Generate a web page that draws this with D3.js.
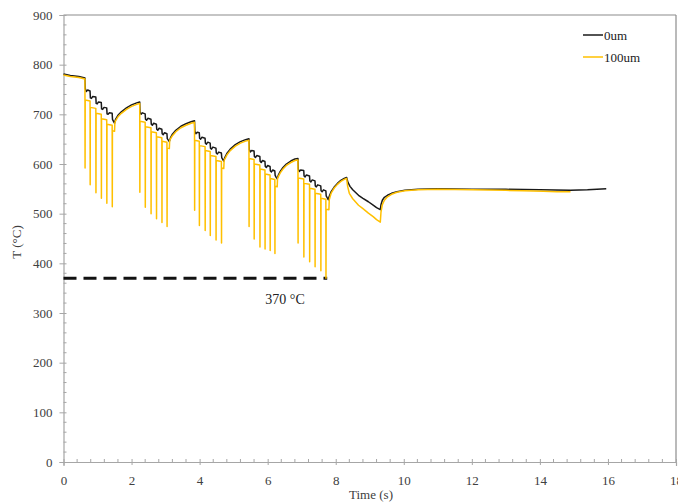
<!DOCTYPE html>
<html>
<head>
<meta charset="utf-8">
<script src="https://cdn.jsdelivr.net/npm/d3@7"></script>
<style>
html,body{margin:0;padding:0;background:#fff;}
svg{display:block;font-family:"Liberation Serif","Times New Roman",serif;}
</style>
</head>
<body>
<svg id="chart" width="678" height="502"></svg>
<script>
// ---- data ----
const seriesNames = ["0um", "100um"];
const xTicks = [0, 2, 4, 6, 8, 10, 12, 14, 16, 18];
const yTicks = [0, 100, 200, 300, 400, 500, 600, 700, 800, 900];
const thresholdValue = 370;
const thresholdEnd = 7.75;
const thresholdLabel = "370 °C";

const series0um = [
  [0,781],[0.2,778],[0.45,776],[0.63,773],
  [0.64,752],[0.67,746],[0.71,749],[0.78,747],
  [0.79,733],[0.82,732],[0.86,736],[0.95,735],
  [0.96,722],[0.99,721],[1.03,725],[1.11,724],
  [1.12,711],[1.15,710],[1.19,714],[1.27,713],
  [1.28,701],[1.31,700],[1.35,703],[1.43,702],
  [1.44,690],[1.47,686],[1.50,682],
  [1.53,690],[1.6,698],[1.7,705],[1.85,713],[2.0,719],[2.15,723],[2.24,725],
  [2.25,705],[2.28,700],[2.32,703],[2.40,701],
  [2.41,690],[2.44,688],[2.48,692],[2.57,690],
  [2.58,680],[2.61,678],[2.65,682],[2.73,680],
  [2.74,670],[2.77,668],[2.81,672],[2.89,670],
  [2.90,661],[2.93,659],[2.97,663],[3.04,661],
  [3.05,651],[3.08,648],[3.11,645],
  [3.14,652],[3.2,660],[3.3,668],[3.45,676],[3.6,681],[3.75,685],[3.85,687],
  [3.86,666],[3.89,661],[3.93,664],[3.99,663],
  [4.00,652],[4.03,650],[4.07,654],[4.16,652],
  [4.17,642],[4.20,640],[4.24,644],[4.31,642],
  [4.32,632],[4.35,630],[4.39,634],[4.48,632],
  [4.49,622],[4.52,620],[4.56,624],[4.64,622],
  [4.65,613],[4.68,609],[4.71,606],
  [4.74,613],[4.8,621],[4.9,630],[5.05,639],[5.2,645],[5.35,649],[5.45,651],
  [5.46,629],[5.49,624],[5.53,627],[5.60,626],
  [5.61,615],[5.64,613],[5.68,617],[5.77,615],
  [5.78,605],[5.81,603],[5.85,607],[5.92,605],
  [5.93,595],[5.96,593],[6.00,597],[6.07,595],
  [6.08,586],[6.11,584],[6.15,588],[6.21,586],
  [6.22,577],[6.25,573],[6.28,570],
  [6.31,577],[6.37,585],[6.45,593],[6.55,600],[6.68,606],[6.8,610],[6.89,611],
  [6.90,590],[6.93,585],[6.97,588],[7.06,587],
  [7.07,576],[7.10,574],[7.14,578],[7.23,576],
  [7.24,566],[7.27,564],[7.31,568],[7.39,566],
  [7.40,556],[7.43,554],[7.47,558],[7.56,556],
  [7.57,546],[7.60,544],[7.64,548],[7.71,546],
  [7.72,536],[7.75,532],[7.78,528],
  [7.81,535],[7.87,545],[7.95,553],[8.05,561],[8.15,567],[8.25,571],[8.32,573],
  [8.36,563],[8.42,555],[8.5,548],[8.67,537],[8.8,531],[8.96,524],[9.1,517],[9.2,512],[9.31,508],
  [9.33,518],[9.37,527],[9.43,533],[9.52,537],[9.64,541],[9.8,544],[10.03,547],[10.42,549],
  [11,550],[12,549],[13,549],[14,548],[14.9,547],[15.4,548],[15.95,550]
];

const series100um = [
  [0,779],[0.2,776],[0.45,774],[0.63,771],
  [0.634,592],[0.638,729],[0.78,727],
  [0.784,558],[0.788,714],[0.95,712],
  [0.954,542],[0.958,702],[1.11,700],
  [1.114,531],[1.118,691],[1.27,689],
  [1.274,521],[1.278,680],[1.43,678],
  [1.434,514],[1.438,667],[1.50,666],
  [1.51,683],[1.53,687],[1.6,695],[1.7,702],[1.85,710],[2.0,716],[2.15,720],[2.24,722],
  [2.244,543],[2.248,686],[2.40,684],
  [2.404,513],[2.408,675],[2.57,673],
  [2.574,500],[2.578,665],[2.73,663],
  [2.734,490],[2.738,655],[2.89,653],
  [2.894,482],[2.898,646],[3.04,644],
  [3.044,474],[3.048,632],[3.11,631],
  [3.12,647],[3.14,650],[3.2,657],[3.3,665],[3.45,673],[3.6,678],[3.75,682],[3.85,684],
  [3.854,507],[3.858,648],[3.99,646],
  [3.994,476],[3.998,637],[4.16,635],
  [4.164,466],[4.168,627],[4.31,625],
  [4.314,456],[4.318,617],[4.48,615],
  [4.484,447],[4.488,607],[4.64,605],
  [4.644,441],[4.648,592],[4.71,591],
  [4.72,607],[4.74,610],[4.8,618],[4.9,627],[5.05,636],[5.2,642],[5.35,646],[5.45,648],
  [5.454,474],[5.458,611],[5.60,609],
  [5.604,449],[5.608,600],[5.77,598],
  [5.774,433],[5.778,590],[5.92,588],
  [5.924,429],[5.928,580],[6.07,578],
  [6.074,426],[6.078,571],[6.21,569],
  [6.214,420],[6.218,555],[6.28,554],
  [6.29,571],[6.31,574],[6.37,582],[6.45,590],[6.55,597],[6.68,603],[6.8,607],[6.89,608],
  [6.894,441],[6.898,572],[7.06,570],
  [7.064,413],[7.068,561],[7.23,559],
  [7.234,403],[7.238,551],[7.39,549],
  [7.394,393],[7.398,541],[7.56,539],
  [7.564,385],[7.568,531],[7.71,529],
  [7.714,370],[7.718,509],[7.80,508],
  [7.81,528],[7.83,533],[7.87,542],[7.95,551],[8.05,559],[8.15,565],[8.25,569],[8.32,571],
  [8.35,555],[8.4,541],[8.5,530],[8.67,517],[8.8,510],[8.96,501],[9.1,494],[9.2,488],[9.31,483],
  [9.33,503],[9.37,518],[9.43,527],[9.52,534],[9.64,539],[9.8,543],[10.03,546],[10.42,548],
  [11,549],[12,548],[13,547],[13.5,546],[14.1,545],[14.5,544],[14.9,544]
];

// ---- layout ----
const svg = d3.select("#chart");
const mL = 63.5, mR = 676, mT = 15, mB = 462;
const x = d3.scaleLinear().domain([0, 18]).range([mL, mR]);
const y = d3.scaleLinear().domain([0, 900]).range([mB, mT]);
const axisColor = "#a6a6a6";
const labelColor = "#404040";

// frame (top/right)
svg.append("line").attr("x1", mL).attr("x2", mR).attr("y1", mT).attr("y2", mT)
  .attr("stroke", "#8c8c8c").attr("stroke-width", 1.2);
svg.append("line").attr("x1", mR).attr("x2", mR).attr("y1", mT).attr("y2", mB)
  .attr("stroke", "#8c8c8c").attr("stroke-width", 1.2);

// minor ticks
const yMinor = d3.range(0, 901, 20).filter(v => v % 100 !== 0);
const xMinor = d3.range(0, 18.01, 0.4).filter(v => Math.abs(v / 2 - Math.round(v / 2)) > 1e-6);
svg.append("g").selectAll("line").data(yMinor).join("line")
  .attr("x1", mL).attr("x2", mL + 3).attr("y1", d => y(d)).attr("y2", d => y(d))
  .attr("stroke", axisColor);
svg.append("g").selectAll("line").data(xMinor).join("line")
  .attr("x1", d => x(d)).attr("x2", d => x(d)).attr("y1", mB).attr("y2", mB - 3)
  .attr("stroke", axisColor);

// y axis
const gy = svg.append("g").attr("transform", `translate(${mL},0)`)
  .call(d3.axisLeft(y).tickValues(yTicks).tickSize(4).tickPadding(7).tickFormat(d3.format("d")));
gy.select(".domain").attr("stroke", axisColor).attr("stroke-width", 1.2);
gy.selectAll(".tick line").attr("stroke", axisColor).attr("x2", -4).attr("x1", 3);
gy.selectAll(".tick text").attr("fill", labelColor).style("font-size", "13px")
  .style("font-family", "Liberation Serif, serif");

// x axis
const gx = svg.append("g").attr("transform", `translate(0,${mB})`)
  .call(d3.axisBottom(x).tickValues(xTicks).tickSize(4).tickPadding(10).tickFormat(d3.format("d")));
gx.select(".domain").attr("stroke", axisColor).attr("stroke-width", 1.2);
gx.selectAll(".tick line").attr("stroke", axisColor).attr("y1", -3).attr("y2", 3);
gx.selectAll(".tick text").attr("fill", labelColor).style("font-size", "13px")
  .style("font-family", "Liberation Serif, serif");

// axis titles
svg.append("text").attr("x", 371).attr("y", 499).attr("text-anchor", "middle")
  .attr("fill", labelColor).style("font-size", "13px").text("Time (s)");
svg.append("text").attr("transform", "translate(21,242) rotate(-90)").attr("text-anchor", "middle")
  .attr("fill", labelColor).style("font-size", "13px").text("T (°C)");

// threshold dashed line
svg.append("line")
  .attr("x1", x(0)).attr("x2", x(thresholdEnd))
  .attr("y1", y(thresholdValue)).attr("y2", y(thresholdValue))
  .attr("stroke", "#111").attr("stroke-width", 3).attr("stroke-dasharray", "13,7");
svg.append("text").attr("x", 285).attr("y", 304).attr("text-anchor", "middle")
  .attr("fill", "#222").style("font-size", "14px").text(thresholdLabel);

// lines
const line = d3.line().x(d => x(d[0])).y(d => y(d[1]));
const colors = ["#1a1a1a", "#FFC000"];
[series0um, series100um].forEach((s, i) => {
  svg.append("path").datum(s).attr("d", line)
    .attr("fill", "none").attr("stroke", colors[i]).attr("stroke-width", 1.5)
    .attr("stroke-linejoin", "round");
});

// legend
const lg = svg.append("g");
seriesNames.forEach((name, i) => {
  const ly = 35 + i * 22;
  lg.append("line").attr("x1", 583).attr("x2", 603).attr("y1", ly).attr("y2", ly)
    .attr("stroke", colors[i]).attr("stroke-width", 1.5);
  lg.append("text").attr("x", 604).attr("y", ly + 4.5).attr("fill", "#222")
    .style("font-size", "13px").text(name);
});
</script>
</body>
</html>
